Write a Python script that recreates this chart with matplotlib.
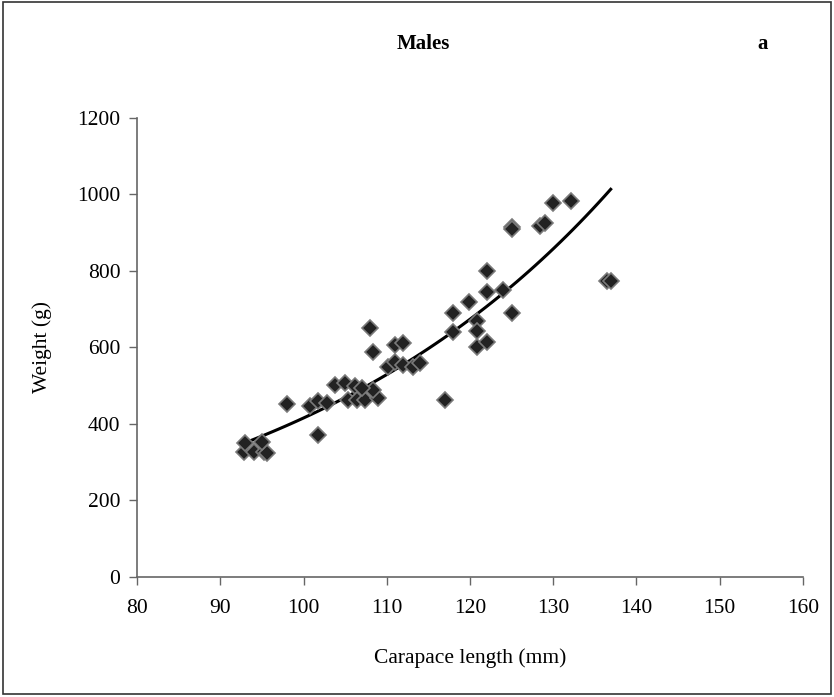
"""
Males: weight vs carapace length, with exponential trend line
"""
import numpy as np
import matplotlib
matplotlib.use("Agg")
import matplotlib.pyplot as plt
from matplotlib.patches import Rectangle

# carapace length [mm] and weight [g]
length_mm = [92.8, 94.0, 95.2, 95.6, 93.0, 95.0, 98.0, 100.8, 101.8, 102.8,
             101.8, 103.8, 105.0, 106.2, 105.4, 106.4, 107.4, 109.0, 108.4, 107.0,
             108.0, 108.3, 110.2, 111.0, 111.0, 112.0, 112.0, 113.2, 114.0, 117.0,
             117.9, 117.9, 119.9, 120.9, 120.9, 120.9, 122.1, 122.0, 122.0, 124.0,
             125.0, 125.0, 125.0, 128.4, 129.0, 130.0, 132.1, 136.4, 136.9]
weight_g = [328, 328, 328, 325, 350, 354, 452, 447, 461, 454,
            371, 502, 506, 499, 463, 463, 463, 467, 489, 495,
            650, 587, 550, 563, 606, 612, 554, 550, 559, 463,
            691, 641, 720, 670, 644, 600, 615, 746, 800, 750,
            691, 916, 910, 918, 925, 979, 984, 775, 775]

x_ticks = [80, 90, 100, 110, 120, 130, 140, 150, 160]
y_ticks = [0, 200, 400, 600, 800, 1000, 1200]

SERIF = ["Liberation Serif", "DejaVu Serif"]
AXIS_GREY = "#666666"


def main():
    plt.rcParams["font.family"] = SERIF

    fig = plt.figure(figsize=(8.34, 6.97), dpi=100)
    ax = fig.add_axes([0.1643, 0.1722, 0.7985, 0.6585])

    x = np.array(length_mm)
    y = np.array(weight_g)

    # exponential trend line W = a * exp(k * L) (fit in log space)
    k, log_a = np.polyfit(x, np.log(y), 1)
    xs = np.linspace(x.min() - 0.3, x.max(), 60)
    ax.plot(xs, np.exp(log_a + k * xs), color="black", lw=2.2, zorder=2)

    ax.plot(x, y, "D", ms=8, mfc="#222222", mec="#7a7a7a", mew=1.2, zorder=3)

    ax.set_xlim(80, 160)
    ax.set_ylim(0, 1200)
    ax.set_xticks(x_ticks)
    ax.set_yticks(y_ticks)
    ax.tick_params(direction="out", length=6, width=1, color=AXIS_GREY,
                   labelsize=15.5, pad=6)
    ax.tick_params(axis="x", pad=10)

    for side in ["top", "right"]:
        ax.spines[side].set_visible(False)
    for side in ["left", "bottom"]:
        ax.spines[side].set_color(AXIS_GREY)
        ax.spines[side].set_linewidth(1.2)

    ax.set_xlabel("Carapace length (mm)", fontsize=15.5, labelpad=22)
    ax.set_ylabel("Weight (g)", fontsize=15.5, labelpad=18)

    fig.text(423 / 834, 1 - 44 / 697, "Males", ha="center", va="center",
             fontsize=15, fontweight="bold")
    fig.text(763 / 834, 1 - 44 / 697, "a", ha="center", va="center",
             fontsize=15, fontweight="bold")

    # frame around the whole panel
    fig.patches.append(Rectangle((0.003, 0.004), 0.993, 0.993, transform=fig.transFigure,
                                 fill=False, edgecolor="#333333", lw=1.2))

    fig.savefig("out.png", dpi=100)


if __name__ == "__main__":
    main()
